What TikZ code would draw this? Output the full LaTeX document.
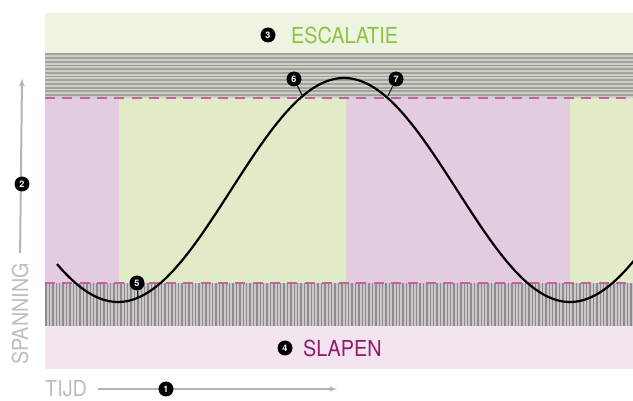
\documentclass[tikz,border=0pt]{standalone}
\usepackage{fontspec}
\usepackage{tikz}
\usetikzlibrary{arrows}
\newfontfamily\dinfont{TeX Gyre Heros}
\definecolor{topgreen}{HTML}{EDF4E1}
\definecolor{hstripebg}{HTML}{CBCFC6}
\definecolor{hstripeln}{HTML}{9FA39B}
\definecolor{colpink}{HTML}{E3CCDF}
\definecolor{colgreen}{HTML}{E2EBC8}
\definecolor{vstripebg}{HTML}{CCC5CC}
\definecolor{vstripeln}{HTML}{8E8A90}
\definecolor{botpink}{HTML}{F2E5EF}
\definecolor{dashpink}{HTML}{C0649E}
\definecolor{escgreen}{HTML}{8CC43F}
\definecolor{slappurple}{HTML}{93196F}
\definecolor{axisgray}{HTML}{B4B4B4}
\definecolor{labelgray}{HTML}{BDBDBD}
\tikzstyle{badge} = [circle, fill=black, text=white, inner sep=0pt,
    minimum size=15pt, font=\dinfont\bfseries\fontsize{9}{9}\selectfont]
\tikzstyle{bandlabel} = [inner sep=0pt, font=\dinfont\fontsize{22}{22}\selectfont]
\tikzstyle{axisline} = [draw=axisgray, line width=2pt, -latex']
\tikzstyle{leader} = [draw, line width=0.9pt]
\tikzstyle{sep} = [draw=dashpink, line width=1.8pt, dash pattern=on 10pt off 7.3pt]
\newcommand{\narrow}[1]{\scalebox{0.9}[1]{#1}}

\begin{document}
\begin{tikzpicture}[x=1pt, y=-1pt]
                \useasboundingbox (0,0) rectangle (633,401);
                % bands
                \fill [topgreen] (45,13) rectangle (633,53);
                \fill [hstripebg] (45,53) rectangle (633,98);
                \foreach \yy in {53.5,57.2,...,96}
                    \fill [hstripeln] (45,\yy) rectangle (633,\yy+1.8);
                \fill [colpink] (45,98) rectangle (119,283);
                \fill [colgreen] (119,98) rectangle (346,283);
                \fill [colpink] (346,98) rectangle (570,283);
                \fill [colgreen] (570,98) rectangle (633,283);
                \fill [vstripebg] (45,283) rectangle (633,326);
                \foreach \xx in {46,49.4,...,632}
                    \draw [vstripeln, line width=1.4pt] (\xx,283) -- (\xx,326);
                \fill [botpink] (45,326) rectangle (633,369);
                \draw [sep] (45,98) -- (633,98);
                \draw [sep] (45,283) -- (633,283);
                % curve
                \begin{scope}
                    \clip (0,0) rectangle (633,401);
                    \draw [line width=2.2pt] plot [domain=57:636, samples=120, smooth]
                        (\x, {190+112*cos(0.79646*(\x-118))});
                \end{scope}
                \coordinate (c5) at (138,298);
                \coordinate (c6) at (302,95);
                \coordinate (c7) at (388,96);
                % labels
                \node [badge] at (268,35) (b3) {3};
                \node [bandlabel, text=escgreen, anchor=west] at (291,35) (escalatie) {\narrow{ESCALATIE}};
                \node [badge] at (285,348) (b4) {4};
                \node [bandlabel, text=slappurple, anchor=west] at (303,348) (slapen) {\narrow{SLAPEN}};
                \node [badge] at (137,283) (b5) {5};
                \node [badge] at (294,79) (b6) {6};
                \node [badge] at (396,79) (b7) {7};
                \path [leader] (b5) -- (c5);
                \path [leader] (b6) -- (c6);
                \path [leader] (b7) -- (c7);
                % axes
                \node [bandlabel, text=labelgray, rotate=90] at (20,314) (spanning) {\narrow{SPANNING}};
                \coordinate (spantop) at (22,78);
                \path [axisline, shorten <=10pt] (spanning.east) -- (spantop);
                \node [badge] at (22,184) (b2) {2};
                \node [bandlabel, text=labelgray, anchor=west] at (45,389) (tijd) {\narrow{TIJD}};
                \coordinate (tijdend) at (337,389);
                \path [axisline, line width=1.5pt, shorten <=11pt] (tijd.east) -- (tijdend);
                \node [badge] at (166,389) (b1) {1};
            \end{tikzpicture}
\end{document}
